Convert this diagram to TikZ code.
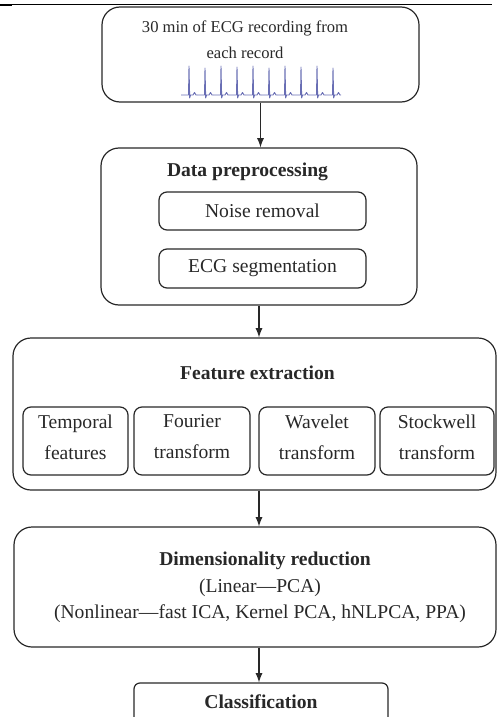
\documentclass[tikz,border=0pt]{standalone}
\usepackage{fontspec}
\setmainfont{Liberation Serif}
\usepackage{tikz}
\definecolor{ecgblue}{RGB}{105,110,180}
\definecolor{ink}{RGB}{40,40,40}

\begin{document}
\begin{tikzpicture}[x = 0.5pt, y = -0.5pt,
	bigbox/.style = {draw = ink, line width = 0.6pt, rounded corners = 9pt, inner sep = 0pt},
	smallbox/.style = {draw = ink, line width = 0.6pt, rounded corners = 4pt, inner sep = 0pt},
	txt/.style = {text = ink, font = \fontsize{9.8pt}{13pt}\selectfont, align = center, inner sep = 0pt},
	arr/.style = {draw = ink, line width = 0.6pt, -latex},
	ecg/.style = {ecgblue, line width = 0.45pt, line join = round}]
	\useasboundingbox (0, 0) rectangle (497, 717);
	\draw[black, line width = 0.5pt] (0, 5) -- (492, 5);
	\draw[black, line width = 1.4pt] (0, 5) -- (12, 5);
	\node[bigbox, minimum width = 158.5pt, minimum height = 47.5pt] (rec) at (260.5, 54.5) {};
	\node[txt, font = \fontsize{8.3pt}{13pt}\selectfont] (rectxt) at (245, 40) {30 min of ECG recording from\\each record};
	\draw[ecg] (181, 95) -- ++(7.5, 0) -- ++(0.5, -29) -- ++(0.7, 32) -- ++(0.8, -3) -- ++(2.5, 0) -- ++(1.5, -2.5) -- ++(1.5, 2.5) -- ++(1, 0);
	\draw[ecg] (197, 95) -- ++(7.5, 0) -- ++(0.5, -27) -- ++(0.7, 30) -- ++(0.8, -3) -- ++(2.5, 0) -- ++(1.5, -2.5) -- ++(1.5, 2.5) -- ++(1, 0);
	\draw[ecg] (213, 95) -- ++(7.5, 0) -- ++(0.5, -29) -- ++(0.7, 32) -- ++(0.8, -3) -- ++(2.5, 0) -- ++(1.5, -2.5) -- ++(1.5, 2.5) -- ++(1, 0);
	\draw[ecg] (229, 95) -- ++(7.5, 0) -- ++(0.5, -28) -- ++(0.7, 31) -- ++(0.8, -3) -- ++(2.5, 0) -- ++(1.5, -2.5) -- ++(1.5, 2.5) -- ++(1, 0);
	\draw[ecg] (245, 95) -- ++(7.5, 0) -- ++(0.5, -29) -- ++(0.7, 32) -- ++(0.8, -3) -- ++(2.5, 0) -- ++(1.5, -2.5) -- ++(1.5, 2.5) -- ++(1, 0);
	\draw[ecg] (261, 95) -- ++(7.5, 0) -- ++(0.5, -27) -- ++(0.7, 30) -- ++(0.8, -3) -- ++(2.5, 0) -- ++(1.5, -2.5) -- ++(1.5, 2.5) -- ++(1, 0);
	\draw[ecg] (277, 95) -- ++(7.5, 0) -- ++(0.5, -29) -- ++(0.7, 32) -- ++(0.8, -3) -- ++(2.5, 0) -- ++(1.5, -2.5) -- ++(1.5, 2.5) -- ++(1, 0);
	\draw[ecg] (293, 95) -- ++(7.5, 0) -- ++(0.5, -28) -- ++(0.7, 31) -- ++(0.8, -3) -- ++(2.5, 0) -- ++(1.5, -2.5) -- ++(1.5, 2.5) -- ++(1, 0);
	\draw[ecg] (309, 95) -- ++(7.5, 0) -- ++(0.5, -29) -- ++(0.7, 32) -- ++(0.8, -3) -- ++(2.5, 0) -- ++(1.5, -2.5) -- ++(1.5, 2.5) -- ++(1, 0);
	\draw[ecg] (325, 95) -- ++(7.5, 0) -- ++(0.5, -27) -- ++(0.7, 30) -- ++(0.8, -3) -- ++(2.5, 0) -- ++(1.5, -2.5) -- ++(1.5, 2.5) -- ++(1, 0);
	\node[bigbox, minimum width = 158pt, minimum height = 78.5pt] (prep) at (259, 226.5) {};
	\node[txt, font = \fontsize{9.8pt}{13pt}\selectfont\bfseries] (preptitle) at (247.5, 172) {Data preprocessing};
	\node[smallbox, txt, minimum width = 103.5pt, minimum height = 19pt] (noise) at (262.5, 211) {Noise removal};
	\node[smallbox, txt, minimum width = 103.5pt, minimum height = 19.5pt] (seg) at (262.5, 268.5) {ECG segmentation};
	\node[bigbox, minimum width = 241.5pt, minimum height = 76pt] (feat) at (254.5, 414) {};
	\node[txt, font = \fontsize{9.8pt}{13pt}\selectfont\bfseries] (feattitle) at (257.5, 373) {Feature extraction};
	\node[smallbox, minimum width = 52.5pt, minimum height = 34pt] (temp) at (75.5, 441) {};
	\node[smallbox, minimum width = 58pt, minimum height = 34pt] (four) at (192, 441) {};
	\node[smallbox, minimum width = 58pt, minimum height = 34pt] (wave) at (317, 441) {};
	\node[smallbox, minimum width = 57pt, minimum height = 34pt] (stock) at (437, 441) {};
	\node[txt, font = \fontsize{9.8pt}{15.5pt}\selectfont] (temptxt) at (75.5, 437) {Temporal\\features};
	\node[txt, font = \fontsize{9.8pt}{15.5pt}\selectfont] (fourtxt) at (192, 437) {Fourier\\transform};
	\node[txt, font = \fontsize{9.8pt}{15.5pt}\selectfont] (wavetxt) at (317, 437) {Wavelet\\transform};
	\node[txt, font = \fontsize{9.8pt}{15.5pt}\selectfont] (stocktxt) at (437, 437) {Stockwell\\transform};
	\node[bigbox, minimum width = 241pt, minimum height = 60pt] (dim) at (255, 587) {};
	\node[txt, font = \fontsize{9.8pt}{13pt}\selectfont\bfseries] (dimtitle) at (265, 561) {Dimensionality reduction};
	\node[txt] (dimtxt) at (260, 601) {(Linear—PCA)\\(Nonlinear—fast ICA, Kernel PCA, hNLPCA, PPA)};
	\node[smallbox, rounded corners = 3pt, minimum width = 127pt, minimum height = 26pt] (cls) at (261, 709) {};
	\node[txt, font = \fontsize{9.8pt}{13pt}\selectfont\bfseries] (clstxt) at (261, 702) {Classification};
	\draw[arr] (rec.south) -- (rec.south |- prep.north);
	\draw[arr] (prep.south) -- (prep.south |- feat.north);
	\draw[arr] (feat.south -| prep.south) -- (dim.north -| prep.south);
	\draw[arr] (dim.south -| prep.south) -- (cls.north -| prep.south);
\end{tikzpicture}
\end{document}
